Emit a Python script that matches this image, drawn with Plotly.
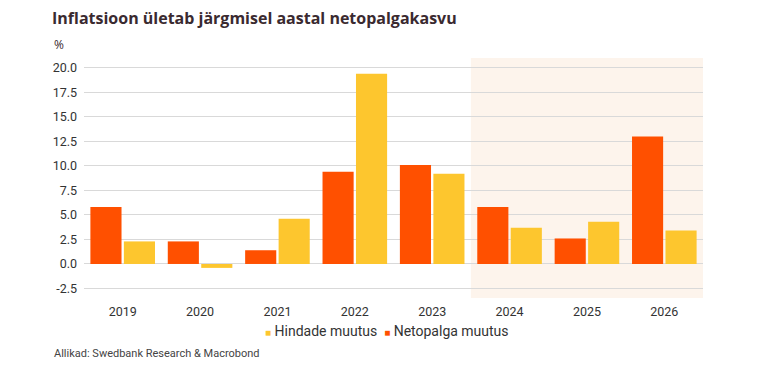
import plotly.graph_objects as go

years = ["2019", "2020", "2021", "2022", "2023", "2024", "2025", "2026"]
netopalga = [5.8, 2.3, 1.4, 9.4, 10.1, 5.8, 2.6, 13.0]
hindade = [2.3, -0.4, 4.6, 19.4, 9.2, 3.7, 4.3, 3.4]
tick_vals = [-2.5, 0.0, 2.5, 5.0, 7.5, 10.0, 12.5, 15.0, 17.5, 20.0]
tick_text = ["-2.5", "0.0", "2.5", "5.0", "7.5", "10.0", "12.5", "15.0", "17.5", "20.0"]

ORANGE = "#FF5000"
YELLOW = "#FDC62E"

# figure is placed with the page's 8px body margin, so figure coords = screen - 8
W, H = 760, 366
L, R, T, B = 76, 65, 50, 76
PW, PH = W - L - R, H - T - B


def px(x):
    return (x - 8 - L) / PW


def py(y):
    return (H - B - (y - 8)) / PH


fig = go.Figure()
fig.add_trace(go.Bar(x=years, y=netopalga, name="Netopalga muutus",
                     marker=dict(color=ORANGE, line=dict(width=0)), showlegend=False))
fig.add_trace(go.Bar(x=years, y=hindade, name="Hindade muutus",
                     marker=dict(color=YELLOW, line=dict(width=0)), showlegend=False))

fig.add_shape(type="rect", xref="x", yref="paper", x0=4.5, x1=7.5, y0=0, y1=1,
              fillcolor="#FDF4EC", line=dict(width=0), layer="below")

legend_text = (f"<span style='color:{YELLOW};font-size:10px'>■</span> Hindade muutus  "
               f"<span style='color:{ORANGE};font-size:10px'>■</span> Netopalga muutus")

fig.update_layout(
    width=W, height=H,
    margin=dict(l=L, r=R, t=T, b=B),
    paper_bgcolor="white", plot_bgcolor="white",
    barmode="group", bargap=0.135, bargroupgap=0.07,
    font=dict(family="Roboto, Arial, sans-serif", size=12, color="#333333"),
    title=dict(text="<b>Inflatsioon ületab järgmisel aastal netopalgakasvu</b>",
               x=44/W, xanchor="left", y=1-10/H, yanchor="middle",
               font=dict(family="Open Sans, sans-serif", size=16, color="#3a2a30")),
    showlegend=False,
    xaxis=dict(type="category", range=[-0.5, 7.5], showgrid=False, showline=False,
               ticks="", ticklabelstandoff=4, tickfont=dict(size=12.5, color="#333333")),
    yaxis=dict(range=[-3.47, 21.0], tickvals=tick_vals, ticktext=tick_text,
               showgrid=True, gridcolor="#D9D9D9", gridwidth=1,
               zeroline=True, zerolinecolor="#D9D9D9", zerolinewidth=1,
               showline=False, ticks="", ticklabelstandoff=6,
               tickfont=dict(size=12.5, color="#333333")),
    annotations=[
        dict(text="%", xref="paper", yref="paper", x=px(52), y=py(44),
             xanchor="left", yanchor="middle", showarrow=False,
             font=dict(family="Open Sans, sans-serif", size=12, color="#3a2a30")),
        dict(text=legend_text, xref="paper", yref="paper", x=px(387), y=py(331),
             xanchor="center", yanchor="middle", showarrow=False,
             font=dict(size=14, color="#333333")),
        dict(text="Allikad: Swedbank Research & Macrobond", xref="paper", yref="paper",
             x=px(52), y=py(353), xanchor="left", yanchor="middle",
             showarrow=False, font=dict(size=11, color="#444444")),
    ],
)

fig.write_html("out.html")
